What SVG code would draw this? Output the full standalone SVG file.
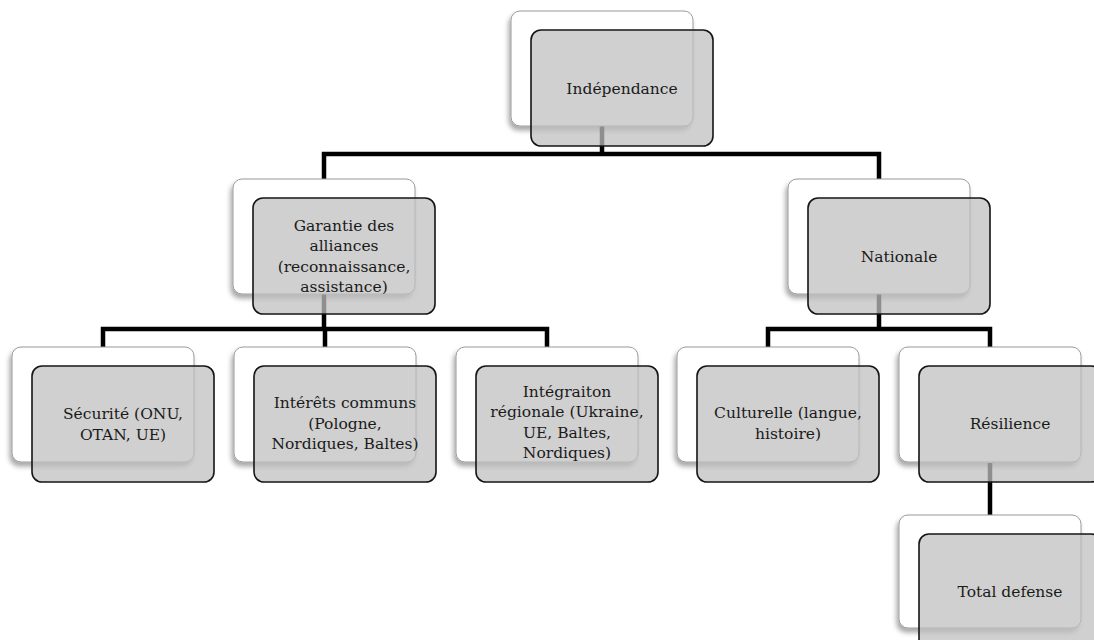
<svg xmlns="http://www.w3.org/2000/svg" width="1094" height="640" viewBox="0 0 1094 640">
  <defs>
    <filter id="shadow" x="-10%" y="-10%" width="120%" height="130%">
      <feDropShadow dx="-2" dy="4" stdDeviation="2.5" flood-color="#000" flood-opacity="0.35"/>
    </filter>
    <style>
      .back { fill: #ffffff; stroke: #9a9a9a; stroke-width: 1; filter: url(#shadow); }
      .front { fill: #bfbfbf; fill-opacity: 0.74; stroke: #151515; stroke-width: 1.6; }
      .label { font-family: "DejaVu Serif", "Liberation Serif", serif; font-size: 15.5px; fill: #1a1a1a; text-anchor: middle; }
      .wire { fill: none; stroke: #000; stroke-width: 4.5; stroke-linejoin: miter; stroke-linecap: butt; }
    </style>
  </defs>
  <rect width="1094" height="640" fill="#ffffff"/>

  <!-- hierarchy connectors -->
  <g id="connectors">
    <path class="wire" d="M602,126 V154 M324,179 V154 H879 V179"/>
    <path class="wire" d="M324,294 V329 M103,347 V329 H547 V347 M325,329 V347"/>
    <path class="wire" d="M879,294 V329 M768,347 V329 H990 V347"/>
    <path class="wire" d="M990,463 V515"/>
  </g>

  <g id="n-independance">
    <rect class="back" x="511" y="11" width="182" height="115" rx="9"/>
    <rect class="front" x="531" y="30" width="182" height="116" rx="10"/>
    <text class="label" x="622" y="94">Indépendance</text>
  </g>

  <g id="n-garantie">
    <rect class="back" x="233" y="179" width="182" height="115" rx="9"/>
    <rect class="front" x="253" y="198" width="182" height="116" rx="10"/>
    <text class="label" x="344" y="230.5">Garantie des</text>
    <text class="label" x="344" y="251">alliances</text>
    <text class="label" x="344" y="271.5">(reconnaissance,</text>
    <text class="label" x="344" y="292">assistance)</text>
  </g>

  <g id="n-nationale">
    <rect class="back" x="788" y="179" width="182" height="115" rx="9"/>
    <rect class="front" x="808" y="198" width="182" height="116" rx="10"/>
    <text class="label" x="899" y="262">Nationale</text>
  </g>

  <g id="n-securite">
    <rect class="back" x="12" y="347" width="182" height="115" rx="9"/>
    <rect class="front" x="32" y="366" width="182" height="116" rx="10"/>
    <text class="label" x="123" y="419">Sécurité (ONU,</text>
    <text class="label" x="123" y="439.5">OTAN, UE)</text>
  </g>

  <g id="n-interets">
    <rect class="back" x="234" y="347" width="182" height="115" rx="9"/>
    <rect class="front" x="254" y="366" width="182" height="116" rx="10"/>
    <text class="label" x="345" y="408">Intérêts communs</text>
    <text class="label" x="345" y="428.5">(Pologne,</text>
    <text class="label" x="345" y="449">Nordiques, Baltes)</text>
  </g>

  <g id="n-integration">
    <rect class="back" x="456" y="347" width="182" height="115" rx="9"/>
    <rect class="front" x="476" y="366" width="182" height="116" rx="10"/>
    <text class="label" x="567" y="396.5">Intégraiton</text>
    <text class="label" x="567" y="417">régionale (Ukraine,</text>
    <text class="label" x="567" y="437.5">UE, Baltes,</text>
    <text class="label" x="567" y="458">Nordiques)</text>
  </g>

  <g id="n-culturelle">
    <rect class="back" x="677" y="347" width="182" height="115" rx="9"/>
    <rect class="front" x="697" y="366" width="182" height="116" rx="10"/>
    <text class="label" x="788" y="418">Culturelle (langue,</text>
    <text class="label" x="788" y="438.5">histoire)</text>
  </g>

  <g id="n-resilience">
    <rect class="back" x="899" y="347" width="182" height="115" rx="9"/>
    <rect class="front" x="919" y="366" width="182" height="116" rx="10"/>
    <text class="label" x="1010" y="429">Résilience</text>
  </g>

  <g id="n-total">
    <rect class="back" x="899" y="515" width="182" height="113" rx="9"/>
    <rect class="front" x="919" y="534" width="182" height="116" rx="10"/>
    <text class="label" x="1010" y="597">Total defense</text>
  </g>
</svg>
